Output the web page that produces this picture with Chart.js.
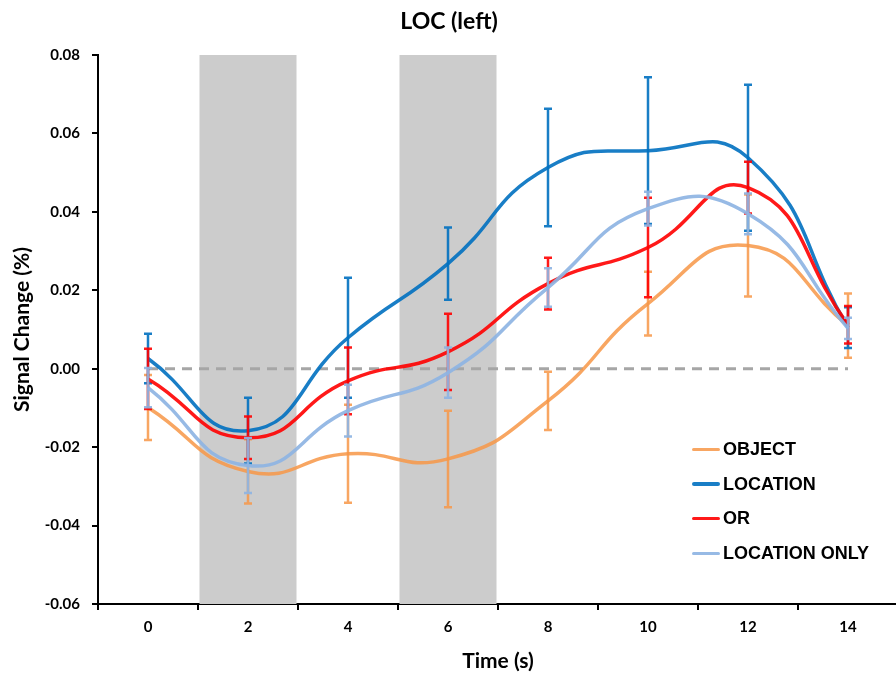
<!DOCTYPE html>
<html>
<head>
<meta charset="utf-8">
<script src="https://cdn.jsdelivr.net/npm/chart.js@4.4.1/dist/chart.umd.min.js"></script>
<style>
    html, body { margin: 0; padding: 0; overflow: hidden; background: #fff; }
    #wrap { position: relative; width: 898px; height: 676px; }
    #legend { position: absolute; left: 692px; top: 432px; font: bold 18px "Liberation Sans", Arial, sans-serif; color: #000; }
    .row { display: flex; align-items: center; height: 34.7px; }
    .swatch { width: 28px; height: 3.5px; margin-right: 3px; border-radius: 2px; }
</style>
</head>
<body>
<div id="wrap">
    <canvas id="chart" width="898" height="676"></canvas>
    <div id="legend"></div>
</div>
<script>
const categories = ['0', '2', '4', '6', '8', '10', '12', '14'];
const seriesNames = ['OBJECT', 'LOCATION', 'OR', 'LOCATION ONLY'];
const seriesColors = ['rgba(247,150,70,0.85)', 'rgba(0,112,192,0.9)', 'rgba(255,0,0,0.9)', 'rgba(142,180,227,0.92)'];

const objectMean = [-0.0099, -0.0262, -0.0217, -0.0230, -0.0082, 0.0166, 0.0314, 0.0110];
const objectErr = [0.0083, 0.0082, 0.0125, 0.0123, 0.0074, 0.0081, 0.0130, 0.0082];
const locationMean = [0.0026, -0.0158, 0.0079, 0.0268, 0.0513, 0.0556, 0.0538, 0.0105];
const locationErr = [0.0063, 0.0084, 0.0153, 0.0092, 0.0150, 0.0187, 0.0186, 0.0052];
const orMean = [-0.0026, -0.0176, -0.0031, 0.0043, 0.0217, 0.0309, 0.0462, 0.0112];
const orErr = [0.0077, 0.0054, 0.0085, 0.0097, 0.0066, 0.0127, 0.0066, 0.0048];
const locOnlyMean = [-0.0048, -0.0247, -0.0107, -0.0010, 0.0207, 0.0408, 0.0395, 0.0103];
const locOnlyErr = [0.0050, 0.0070, 0.0066, 0.0064, 0.0049, 0.0043, 0.0052, 0.0027];

const baseline = [0, 0, 0, 0, 0, 0, 0, 0];
// grey stimulus blocks, full height of the axis
const stimulusBands = [null, [-0.06, 0.08], null, [-0.06, 0.08], null, null, null, null];

const means = [objectMean, locationMean, orMean, locOnlyMean];
const errors = [objectErr, locationErr, orErr, locOnlyErr];

const errorBarPlugin = {
    id: 'errorBars',
    afterDatasetDraw(chart, args) {
        const ds = chart.data.datasets[args.index];
        if (!ds.errors) {
            return;
        }
        const ctx = chart.ctx;
        const yScale = chart.scales.y;
        ctx.save();
        ctx.strokeStyle = ds.borderColor;
        ctx.lineWidth = 2.5;
        args.meta.data.forEach((pt, i) => {
            const v = ds.data[i];
            const e = ds.errors[i];
            const top = yScale.getPixelForValue(v + e);
            const bot = yScale.getPixelForValue(v - e);
            ctx.beginPath();
            ctx.moveTo(pt.x, top);
            ctx.lineTo(pt.x, bot);
            ctx.moveTo(pt.x - 4, top);
            ctx.lineTo(pt.x + 4, top);
            ctx.moveTo(pt.x - 4, bot);
            ctx.lineTo(pt.x + 4, bot);
            ctx.stroke();
        });
        ctx.restore();
    }
};

const datasets = [
    {
        type: 'bar',
        label: 'stimulus',
        data: stimulusBands,
        backgroundColor: '#CCCCCC',
        borderWidth: 0,
        barPercentage: 0.97,
        categoryPercentage: 1,
        order: 10
    },
    {
        type: 'line',
        label: 'baseline',
        data: baseline,
        borderColor: '#A6A6A6',
        borderWidth: 3,
        borderDash: [10, 7],
        pointRadius: 0,
        order: 6
    }
];
for (let s = 0; s < seriesNames.length; s++) {
    datasets.push({
        type: 'line',
        label: seriesNames[s],
        data: means[s],
        errors: errors[s],
        borderColor: seriesColors[s],
        borderWidth: 3.5,
        pointRadius: 0,
        tension: 0.5,
        order: 4 - s
    });
}

const legend = document.getElementById('legend');
seriesNames.forEach((name, s) => {
    const row = document.createElement('div');
    row.className = 'row';
    const sw = document.createElement('span');
    sw.className = 'swatch';
    sw.style.background = seriesColors[s];
    const txt = document.createElement('span');
    txt.innerText = name;
    row.appendChild(sw);
    row.appendChild(txt);
    legend.appendChild(row);
});

const tickFont = { family: 'Lato', size: 15, weight: 'bold' };

new Chart(document.getElementById('chart').getContext('2d'), {
    data: { labels: categories, datasets },
    plugins: [errorBarPlugin],
    options: {
        responsive: false,
        animation: false,
        layout: { padding: 0 },
        plugins: {
            legend: { display: false },
            tooltip: { enabled: false },
            title: {
                display: true,
                text: 'LOC (left)',
                color: '#000',
                font: { family: 'Lato', size: 23, weight: 'bold' },
                padding: { top: 8, bottom: 19.4 }
            }
        },
        scales: {
            x: {
                type: 'category',
                offset: true,
                grid: { offset: true, drawOnChartArea: false, tickLength: 6, color: '#000', lineWidth: 2 },
                border: { color: '#000', width: 2 },
                ticks: { color: '#000', font: tickFont, padding: 8, maxRotation: 0 },
                title: {
                    display: true,
                    text: 'Time (s)',
                    color: '#000',
                    font: { family: 'Lato', size: 21, weight: 'bold' },
                    padding: { top: 2, bottom: 2 }
                },
                afterFit(scale) { scale.height = 72; }
            },
            y: {
                min: -0.06,
                max: 0.08,
                grid: { drawOnChartArea: false, tickLength: 6, color: '#000', lineWidth: 2 },
                border: { color: '#000', width: 2 },
                ticks: {
                    stepSize: 0.02,
                    color: '#000',
                    font: tickFont,
                    padding: 12,
                    callback: v => Number(v).toFixed(2)
                },
                title: {
                    display: true,
                    text: 'Signal Change (%)',
                    color: '#000',
                    font: { family: 'Lato', size: 21, weight: 'bold' },
                    padding: { top: 10, bottom: 10 }
                },
                afterFit(scale) { scale.width = 98; }
            }
        }
    }
});
</script>
</body>
</html>
